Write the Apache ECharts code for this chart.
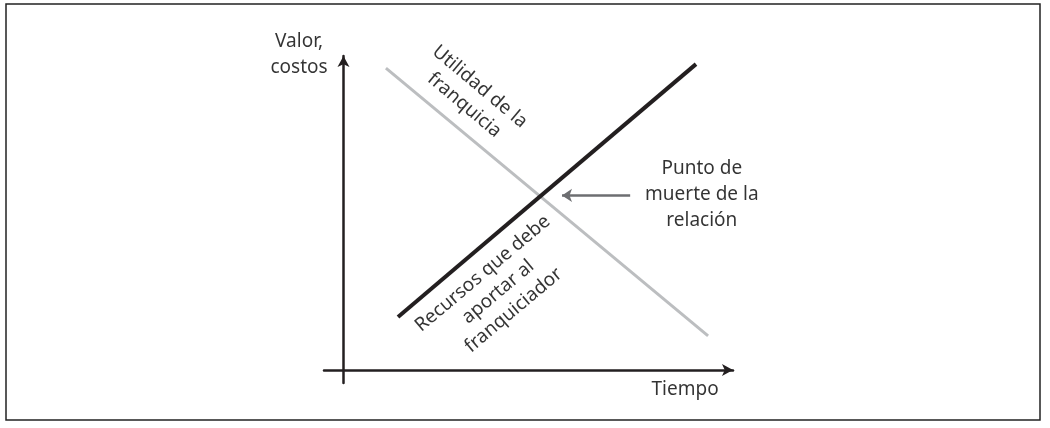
<!DOCTYPE html>
<html>
<head>
<meta charset="utf-8">
<script src="https://cdn.jsdelivr.net/npm/echarts@6/dist/echarts.min.js"></script>
<style>
  html, body { margin: 0; padding: 0; background: #fff; }
  #main { width: 1050px; height: 428px; }
</style>
</head>
<body>
<div id="main"></div>
<script>
// datos (unidades arbitrarias de tiempo / valor)
var utilidadX = [1.09, 9.36];
var utilidadY = [11.54, 1.30];
var recursosX = [1.40, 9.05];
var recursosY = [2.02, 11.69];
var flechaX = [7.36, 5.61];
var flechaY = [6.67, 6.67];

var textos = ['Valor,\ncostos', 'Tiempo', 'Punto de\nmuerte de la\nrelación',
              'Utilidad de la\nfranquicia', 'Recursos que debe\naportar al\nfranquiciador'];
var textosX = [-1.14, 8.77, 9.20, 3.30, 3.97];
var textosY = [12.04, -0.77, 6.69, 10.47, 2.98];
var textosGiro = [0, 0, 0, -40, 40];

var fuente = 'Noto Sans';
var negro = '#231f20';

function pares(xs, ys) {
    return xs.map(function (x, i) { return [x, ys[i]]; });
}

var myChart = echarts.init(document.getElementById('main'));
var option = {
    animation: false,
    backgroundColor: '#fff',
    graphic: [
        {
            type: 'rect',
            shape: { x: 6, y: 4, width: 1034, height: 416 },
            style: { fill: 'none', stroke: '#222', lineWidth: 1.5 }
        }
    ],
    grid: { left: 324, right: 317, top: 56, bottom: 45 },
    xAxis: {
        type: 'value', min: -0.5, max: 10,
        axisLine: {
            onZero: true,
            symbol: ['none', 'arrow'], symbolSize: [9, 11],
            lineStyle: { color: negro, width: 2.5 }
        },
        axisTick: { show: false }, axisLabel: { show: false }, splitLine: { show: false }
    },
    yAxis: {
        type: 'value', min: -0.5, max: 12,
        axisLine: {
            onZero: true,
            symbol: ['none', 'arrow'], symbolSize: [9, 11],
            lineStyle: { color: negro, width: 2.5 }
        },
        axisTick: { show: false }, axisLabel: { show: false }, splitLine: { show: false }
    },
    series: [
        {
            name: 'Utilidad de la franquicia',
            type: 'line',
            data: pares(utilidadX, utilidadY),
            showSymbol: false,
            lineStyle: { color: '#bcbec0', width: 3 }
        },
        {
            name: 'Recursos que debe aportar al franquiciador',
            type: 'line',
            data: pares(recursosX, recursosY),
            showSymbol: false,
            lineStyle: { color: negro, width: 4 },
            markLine: {
                silent: true,
                symbol: ['none', 'arrow'],
                symbolSize: [10, 10],
                label: { show: false },
                lineStyle: { color: '#6d6e71', width: 2.5, type: 'solid' },
                data: [[{ coord: [flechaX[0], flechaY[0]] }, { coord: [flechaX[1], flechaY[1]] }]]
            }
        },
        {
            name: 'textos',
            type: 'scatter',
            clip: false,
            symbolSize: 0,
            silent: true,
            data: textos.map(function (t, i) {
                return {
                    value: [textosX[i], textosY[i]],
                    label: { formatter: t, rotate: textosGiro[i], lineHeight: textosGiro[i] ? 24 : 26 }
                };
            }),
            label: {
                show: true,
                position: 'inside',
                color: '#000',
                textBorderWidth: 0,
                fontFamily: fuente,
                fontSize: 19,
                align: 'center',
                verticalAlign: 'middle'
            }
        }
    ]
};
myChart.setOption(option);
</script>
</body>
</html>
